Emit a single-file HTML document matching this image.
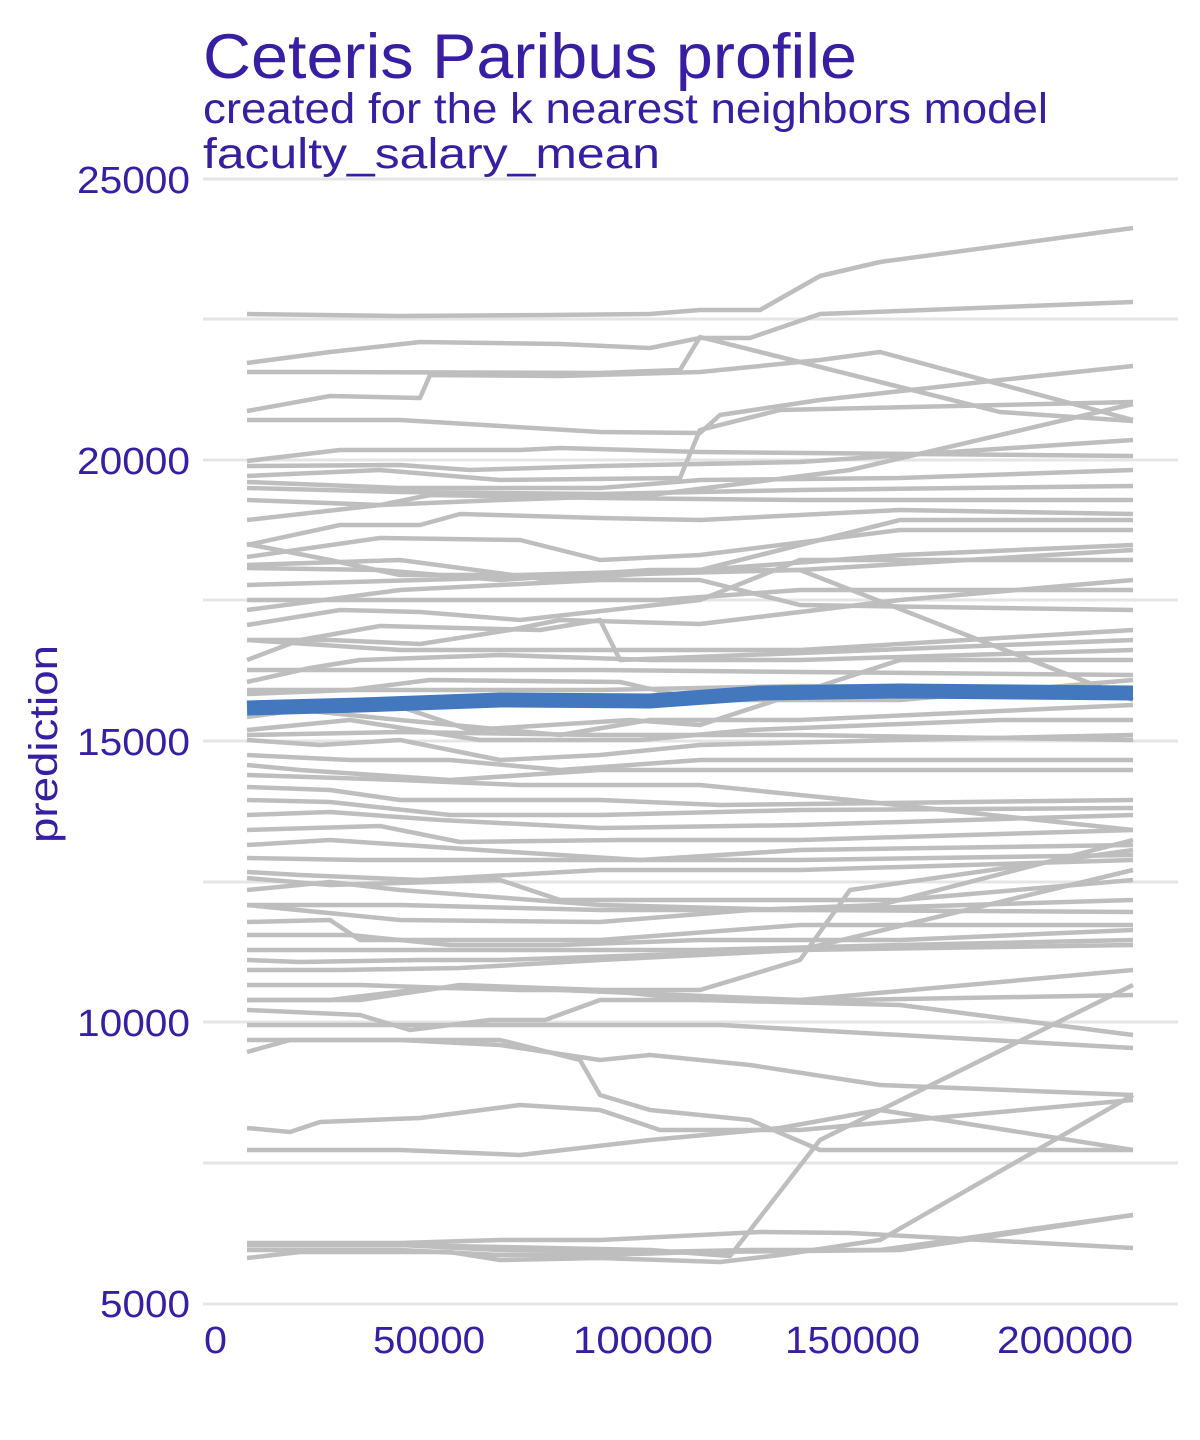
<!DOCTYPE html>
<html><head><meta charset="utf-8"><style>body{margin:0;background:#fff}svg{display:block}</style></head><body>
<svg width="1200" height="1440" viewBox="0 0 1200 1440" xmlns="http://www.w3.org/2000/svg" font-family="Liberation Sans, sans-serif">
<g stroke="#e5e5e5" stroke-width="3">
<line x1="203" x2="1178" y1="179" y2="179"/><line x1="203" x2="1178" y1="319" y2="319"/>
<line x1="203" x2="1178" y1="460" y2="460"/><line x1="203" x2="1178" y1="600" y2="600"/>
<line x1="203" x2="1178" y1="741" y2="741"/><line x1="203" x2="1178" y1="882" y2="882"/>
<line x1="203" x2="1178" y1="1022" y2="1022"/><line x1="203" x2="1178" y1="1163" y2="1163"/>
<line x1="203" x2="1178" y1="1304" y2="1304"/>
</g>
<g fill="none" stroke="#bebebe" stroke-width="4.5" stroke-linejoin="round">
<polyline points="247,314 400,316 550,315 650,314 700,310 760,310 820,276 880,262 1133,228"/>
<polyline points="247,363 330,352 420,342 560,344 650,348 700,338 750,338 820,314 1133,302"/>
<polyline points="247,372 330,372 600,373 680,370 700,337 1000,412 1133,421"/>
<polyline points="247,411 330,396 420,398 430,375 560,376 700,372 820,360 880,352 1133,420"/>
<polyline points="247,420 400,420 600,432 700,433 720,415 820,400 1000,380 1133,366"/>
<polyline points="247,461 340,450 520,450 560,448 700,452 1133,456"/>
<polyline points="247,466 400,465 470,470 600,466 800,462 1133,440"/>
<polyline points="247,476 380,470 500,480 680,478 700,430 780,410 1133,402"/>
<polyline points="247,482 400,488 600,488 700,480 900,478 1133,470"/>
<polyline points="247,488 400,492 600,494 800,490 1133,486"/>
<polyline points="247,500 380,505 500,500 650,495 850,470 1133,404"/>
<polyline points="247,520 380,505 430,495 600,498 800,500 1133,500"/>
<polyline points="247,545 340,525 420,525 460,514 600,518 700,520 900,510 1133,514"/>
<polyline points="247,557 380,538 520,540 600,560 700,555 900,530 1133,530"/>
<polyline points="247,568 380,570 500,580 650,570 800,570 1133,550"/>
<polyline points="247,544 330,560 400,575 520,575 700,570 900,520 1133,520"/>
<polyline points="247,600 380,600 560,600 660,600 800,590 1133,590"/>
<polyline points="247,625 340,610 420,612 520,620 700,600 800,560 1133,560"/>
<polyline points="247,640 330,640 420,644 510,630 560,620 700,624 900,600 1133,580"/>
<polyline points="247,660 300,640 380,626 540,630 600,620 620,660 1133,640"/>
<polyline points="247,682 310,668 360,660 500,655 650,660 800,660 1133,650"/>
<polyline points="247,694 350,690 430,680 620,682 700,700 900,700 1133,680"/>
<polyline points="247,705 380,700 470,730 630,720 700,725 900,660 1133,660"/>
<polyline points="247,717 300,710 400,720 560,735 650,720 800,720 1133,705"/>
<polyline points="247,730 350,720 480,740 640,740 750,730 1000,720 1133,720"/>
<polyline points="247,740 320,745 400,740 500,760 600,755 700,745 900,740 1133,735"/>
<polyline points="247,755 350,760 450,760 560,770 700,760 900,760 1133,760"/>
<polyline points="247,765 300,770 450,780 600,770 760,770 1133,770"/>
<polyline points="247,775 400,780 520,785 700,785 850,800 1133,830"/>
<polyline points="247,787 330,790 400,800 600,800 720,805 1133,800"/>
<polyline points="247,800 330,802 450,815 600,815 800,810 1133,808"/>
<polyline points="247,815 330,812 440,820 600,828 800,825 1133,815"/>
<polyline points="247,830 380,826 460,842 620,840 800,840 1133,830"/>
<polyline points="247,845 330,840 480,850 640,860 800,850 1133,845"/>
<polyline points="247,858 360,860 520,860 650,860 800,860 1133,855"/>
<polyline points="247,872 300,875 420,880 600,870 800,870 1133,860"/>
<polyline points="247,878 330,885 500,880 560,900 700,900 900,900 1133,880"/>
<polyline points="247,890 330,882 400,890 600,905 800,910 1133,900"/>
<polyline points="247,905 400,905 600,910 800,910 1133,912"/>
<polyline points="247,922 330,920 360,940 600,940 800,925 1133,925"/>
<polyline points="247,935 350,935 450,945 560,945 700,940 900,940 1133,930"/>
<polyline points="247,950 400,950 560,950 700,950 900,945 1133,940"/>
<polyline points="247,960 300,962 420,960 500,960 650,955 800,950 1133,945"/>
<polyline points="247,970 340,970 460,968 600,960 800,950 1133,870"/>
<polyline points="247,985 360,985 450,988 520,990 700,990 800,960 850,890 1133,850"/>
<polyline points="247,1000 330,1000 430,988 500,988 560,990 800,1000 1133,970"/>
<polyline points="247,1010 360,1015 410,1030 490,1020 545,1020 600,1000 700,1000 900,1005 1133,1035"/>
<polyline points="247,1052 290,1040 400,1040 500,1045 600,1060 650,1055 750,1065 880,1085 1133,1095"/>
<polyline points="247,1128 290,1132 320,1122 420,1118 520,1105 600,1110 660,1130 800,1130 1133,1100"/>
<polyline points="247,1040 400,1040 500,1040 580,1060 600,1095 650,1110 750,1120 820,1150 1133,1150"/>
<polyline points="247,1025 360,1025 480,1025 540,1025 600,1025 720,1025 1133,1048"/>
<polyline points="247,1000 360,1000 460,985 600,990 700,1000 850,1000 1133,995"/>
<polyline points="247,1243 400,1243 500,1240 600,1240 760,1232 850,1233 1133,1248"/>
<polyline points="247,1250 400,1250 500,1255 600,1255 700,1252 900,1250 1133,1215"/>
<polyline points="247,1258 300,1252 450,1252 500,1260 600,1258 720,1262 780,1255 880,1240 1133,1095"/>
<polyline points="247,1245 400,1245 500,1250 650,1252 750,1250 880,1250 1133,1215"/>
<polyline points="247,1245 400,1245 500,1247 650,1250 730,1256 820,1140 1133,985"/>
<polyline points="247,1150 400,1150 520,1155 650,1140 780,1128 880,1110 1133,1150"/>
<polyline points="247,905 400,920 600,922 750,910 880,905 1133,840"/>
<polyline points="247,565 400,560 550,580 700,570 900,555 1133,545"/>
<polyline points="247,640 400,650 600,650 800,650 1133,630"/>
<polyline points="247,670 400,670 600,670 800,672 1133,675"/>
<polyline points="247,690 400,690 600,690 800,686 1133,690"/>
<polyline points="247,735 400,732 600,735 800,735 1133,740"/>
<polyline points="247,610 400,590 600,580 700,580 800,605 1133,610"/>
<polyline points="247,585 420,580 600,575 800,570 1133,700"/>
</g>
<polyline fill="none" stroke="#4378bf" stroke-width="15" points="247,708 360,705 500,700 650,701 760,693 900,691 1133,693"/>
<g fill="#371ea3">
<text x="203" y="78" font-size="63" textLength="654" lengthAdjust="spacingAndGlyphs">Ceteris Paribus profile</text>
<text x="203" y="123" font-size="43" textLength="845" lengthAdjust="spacingAndGlyphs">created for the k nearest neighbors model</text>
<text x="203" y="168" font-size="43" textLength="457" lengthAdjust="spacingAndGlyphs">faculty_salary_mean</text>
<g font-size="38">
<text x="77" y="193" textLength="113" lengthAdjust="spacingAndGlyphs">25000</text>
<text x="77" y="474" textLength="113" lengthAdjust="spacingAndGlyphs">20000</text>
<text x="77" y="755" textLength="113" lengthAdjust="spacingAndGlyphs">15000</text>
<text x="77" y="1036" textLength="113" lengthAdjust="spacingAndGlyphs">10000</text>
<text x="100" y="1317" textLength="90" lengthAdjust="spacingAndGlyphs">5000</text>
<text x="204" y="1353" textLength="23" lengthAdjust="spacingAndGlyphs">0</text>
<text x="373" y="1353" textLength="112" lengthAdjust="spacingAndGlyphs">50000</text>
<text x="573" y="1353" textLength="140" lengthAdjust="spacingAndGlyphs">100000</text>
<text x="785" y="1353" textLength="135" lengthAdjust="spacingAndGlyphs">150000</text>
<text x="997" y="1353" textLength="136" lengthAdjust="spacingAndGlyphs">200000</text>
</g>
<text transform="translate(57,744) rotate(-90)" font-size="40" text-anchor="middle" textLength="198" lengthAdjust="spacingAndGlyphs">prediction</text>
</g>
</svg>
</body></html>
